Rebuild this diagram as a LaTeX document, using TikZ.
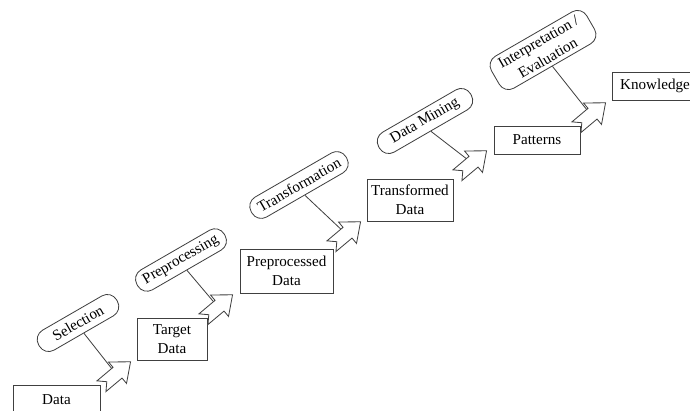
\documentclass[tikz,border=0pt]{standalone}
\usepackage{fontspec}
\setmainfont{Liberation Serif}

\tikzset{
  databox/.style={draw=black!75, line width=0.7pt, fill=white, align=center, inner sep=0pt},
  stage/.style={draw=black!75, line width=0.7pt, fill=white, rotate=30, align=center,
    rounded corners=0.32cm, minimum height=0.69cm, minimum width=2.7cm, inner xsep=0.24cm},
  link/.style={draw=black!75, line width=0.7pt},
  jag/.style={draw=black!75, line width=0.7pt, fill=white, line join=miter}
}
% block arrow with a notched tail, centred on a named coordinate
\newcommand{\jagarrow}[1]{%
  \draw[jag, shift={(#1)}, rotate=40] (-19,-7) -- (2,-7) -- (2,-14) -- (19,0) -- (2,14) -- (2,7) -- (-19,7) -- (-12,0) -- cycle;}

\begin{document}
\begin{tikzpicture}[x=0.03cm, y=-0.03cm, font=\fontsize{12.9}{16.2}\selectfont]
		\useasboundingbox (0,0) rectangle (690,410);
		% the data boxes
		\node[databox, minimum width=2.61cm, minimum height=0.9cm] (data) at (56.5,400) {Data};
		\node[databox, minimum width=2.1cm, minimum height=1.26cm] (target) at (172,339) {Target\\Data};
		\node[databox, minimum width=2.79cm, minimum height=1.32cm] (preproc) at (286.5,271) {Preprocessed\\Data};
		\node[databox, minimum width=2.58cm, minimum height=1.26cm] (transf) at (410,200) {Transformed\\Data};
		\node[databox, minimum width=2.58cm, minimum height=0.84cm] (patterns) at (537,140) {Patterns};
		\node[databox, minimum width=2.58cm, minimum height=0.84cm] (knowledge) at (655,86) {Knowledge};
		% the steps
		\node[stage] (selection) at (78,323) {Selection};
		\node[stage] (preprocessing) at (181,260) {Preprocessing};
		\node[stage] (transformation) at (299,185) {Transformation};
		\node[stage, minimum width=3.18cm] (mining) at (425,121) {Data Mining};
		\node[stage, minimum width=3.3cm, minimum height=1.08cm] (interp) at (543,50) {Interpretation /\\Evaluation};
		% arrow centres
		\coordinate (a1) at (116,374);
		\coordinate (a2) at (218,307);
		\coordinate (a3) at (346,234);
		\coordinate (a4) at (472,163);
		\coordinate (a5) at (591,115);
		\draw[link] (selection.south) -- (a1);
		\draw[link] (preprocessing.south) -- (a2);
		\draw[link] (transformation.south) -- (a3);
		\draw[link] (mining.south) -- (a4);
		\draw[link] (interp.south) -- (a5);
		\jagarrow{a1}
		\jagarrow{a2}
		\jagarrow{a3}
		\jagarrow{a4}
		\jagarrow{a5}
	\end{tikzpicture}
\end{document}
